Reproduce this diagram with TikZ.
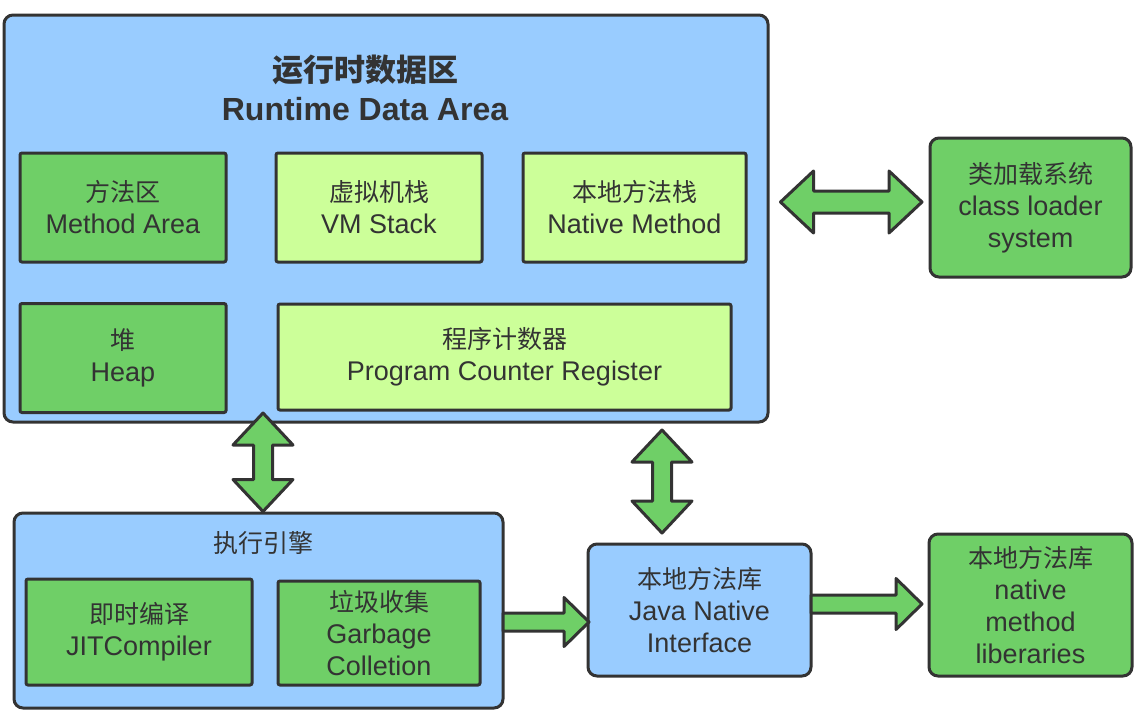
\documentclass[tikz,border=0pt]{standalone}
\usepackage{fontspec}
\setmainfont{Liberation Sans}
\newfontfamily\cjk{Noto Sans CJK SC}
\usetikzlibrary{calc}
\definecolor{bluefill}{HTML}{99CCFF}
\definecolor{greenfill}{HTML}{6FCF67}
\definecolor{lightgreen}{HTML}{CCFF99}
\definecolor{edge}{HTML}{333333}
\tikzset{
  box/.style={draw=edge, line width=3pt, text=edge, align=center, inner sep=0pt,
    font=\fontsize{27}{32}\selectfont},
  outerbox/.style={box, fill=bluefill, rounded corners=9pt},
  gbox/.style={box, fill=greenfill, rounded corners=2pt},
  lbox/.style={box, fill=lightgreen, rounded corners=2pt},
  rgbox/.style={box, fill=greenfill, rounded corners=9pt},
  blk/.style={draw=edge, fill=greenfill, line width=3pt, line join=round},
}
\newcommand\cj[1]{{\cjk\fontsize{25}{32}\selectfont #1}}
% double horizontal block arrow: #1 left tip, #2 right tip, #3 head length, #4 half head, #5 half shaft
\newcommand\blkdh[5]{\draw[blk] (#1) -- ++(#3,-#4) -- ++(0,#4-#5) -- ($(#2)+(-#3,-#5)$) -- ++(0,#5-#4) -- (#2) -- ++(-#3,#4) -- ++(0,#5-#4) -- ($(#1)+(#3,#5)$) -- ++(0,#4-#5) -- cycle;}
% double vertical block arrow: #1 top tip, #2 bottom tip
\newcommand\blkdv[5]{\draw[blk] (#1) -- ++(#4,#3) -- ++(#5-#4,0) -- ($(#2)+(#5,-#3)$) -- ++(#4-#5,0) -- (#2) -- ++(-#4,-#3) -- ++(#4-#5,0) -- ($(#1)+(-#5,#3)$) -- ++(#5-#4,0) -- cycle;}
% single horizontal block arrow: #1 tail centre, #2 tip
\newcommand\blksh[5]{\draw[blk] ($(#1)+(0,-#5)$) -- ($(#2)+(-#3,-#5)$) -- ++(0,#5-#4) -- (#2) -- ++(-#3,#4) -- ++(0,#5-#4) -- ($(#1)+(0,#5)$) -- cycle;}
\begin{document}
\begin{tikzpicture}[x=1pt,y=-1pt]
\useasboundingbox (0,0) rectangle (1140,716);
\fill[white] (0,0) rectangle (1140,716);

% runtime data area
\node[outerbox, minimum width=764pt, minimum height=407pt] (rda) at (386,218.5) {};
\node[text=edge, align=center, font=\bfseries\fontsize{32}{39}\selectfont] (title) at (365,87.5)
  {{\cjk\bfseries\fontsize{31}{39}\selectfont 运行时数据区}\\Runtime Data Area};
\node[gbox, minimum width=206pt, minimum height=109pt] (ma) at (123,207.5) {\cj{方法区}\\Method Area};
\node[lbox, minimum width=206pt, minimum height=109pt] (vm) at (379,207.5) {\cj{虚拟机栈}\\VM Stack};
\node[lbox, minimum width=223pt, minimum height=109pt] (nm) at (634.5,207.5) {\cj{本地方法栈}\\Native Method};
\node[gbox, minimum width=206pt, minimum height=109pt] (heap) at (123,358) {\cj{堆}\\Heap};
\node[lbox, minimum width=453pt, minimum height=106pt] (pc) at (504.5,357) {\cj{程序计数器}\\Program Counter Register};

% class loader
\node[rgbox, minimum width=201pt, minimum height=139pt] (cls) at (1030.5,207.5) {\cj{类加载系统}\\class loader\\system};

% execution engine
\node[outerbox, minimum width=489pt, minimum height=195pt] (exe) at (258.5,610.5) {};
\node[text=edge, font=\cjk\fontsize{25}{30}\selectfont] (exel) at (263,543) {执行引擎};
\node[gbox, minimum width=226pt, minimum height=106pt] (jit) at (139,632) {\cj{即时编译}\\JITCompiler};
\node[gbox, minimum width=202pt, minimum height=104pt] (gc) at (379,633) {\cj{垃圾收集}\\Garbage\\Colletion};

% JNI
\node[box, fill=bluefill, rounded corners=9pt, minimum width=223pt, minimum height=132pt] (jni) at (699.5,610) {\cj{本地方法库}\\Java Native\\Interface};

% native libraries
\node[rgbox, minimum width=203pt, minimum height=142pt] (nl) at (1030.5,605) {\cj{本地方法库}\\native\\method\\liberaries};

% connectors
\coordinate (a1l) at ($(rda.east |- cls.west)+(11,-5.5)$);
\coordinate (a1r) at ($(cls.west)+(-6.5,-5.5)$);
\blkdh{a1l}{a1r}{33}{31}{11}

\coordinate (a2t) at ($(heap.south -| exel)+(0,-1)$);
\coordinate (a2b) at (exe.north -| exel);
\blkdv{a2t}{a2b}{32}{30}{9.5}

\coordinate (a3t) at ($(rda.south -| jni.north)+(-37.5,6.5)$);
\coordinate (a3b) at ($(jni.north)+(-37.5,-9.5)$);
\blkdv{a3t}{a3b}{32}{30}{9.5}

\coordinate (a4s) at ($(exe.east)+(-1.5,11.5)$);
\coordinate (a4e) at ($(a4s -| jni.west)+(2.5,0)$);
\blksh{a4s}{a4e}{25}{24.5}{9}

\coordinate (a5s) at ($(jni.east)+(-1.5,-6)$);
\coordinate (a5e) at ($(a5s -| nl.west)+(-5.5,0)$);
\blksh{a5s}{a5e}{26}{25.5}{9}
\end{tikzpicture}
\end{document}
